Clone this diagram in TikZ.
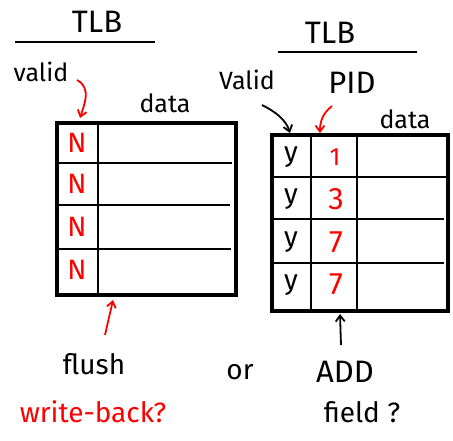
\documentclass[tikz,border=0pt]{standalone}
\usepackage{fontspec}
\setmainfont{Fira Sans}
\usetikzlibrary{arrows.meta}
\begin{document}
\begin{tikzpicture}[x=1pt,y=-1pt,
  hand/.style={font=\fontsize{28}{30}\selectfont},
  handbig/.style={font=\fontsize{31}{33}\selectfont},
  handsm/.style={font=\fontsize{25}{27}\selectfont},
  red/.style={text=red},
  outer/.style={line width=3.5pt},
  inner/.style={line width=1.8pt},
  rarrow/.style={draw=red,line width=1.8pt,-{Straight Barb[length=6pt,width=9pt]}},
  barrow/.style={draw=black,line width=1.8pt,-{Straight Barb[length=6pt,width=9pt]}}]
\useasboundingbox (0,0) rectangle (453,440);
% ---------- left TLB ----------
\node[handbig] (ltlb) at (97,22) {TLB};
\draw[line width=2pt] (15,42) -- (155,42);
\node[handsm] (lvalid) at (41,72) {valid};
\node[handsm] (ldata) at (165,103) {data};
\draw[outer] (57,123) rectangle (236,295);
\draw[inner] (98,123) -- (98,295);
\draw[inner] (57,163) -- (232,163);
\draw[inner] (57,205) -- (230,205);
\draw[inner] (57,249) -- (231,249);
\coordinate (lboxtop) at (80,118);
\draw[rarrow] (77,80) .. controls (92,88) and (84,105) .. (lboxtop);
\foreach \y/\n in {143/n1,184/n2,227/n3,270/n4}
  \node[hand,red] (\n) at (77,\y) {N};
% flush
\coordinate (lboxbot) at (113,300);
\node[hand] (flush) at (94,364) {flush};
\draw[rarrow] (105,335) -- (lboxbot);
\node[hand,red] (wb) at (93,412) {write-back?};
\node[hand] (or) at (240,372) {or};
% ---------- right TLB ----------
\node[handbig] (rtlb) at (330,33) {TLB};
\draw[line width=2pt] (278,52) -- (417,52);
\node[handsm] (rvalid) at (247,80) {Valid};
\node[handbig] (pid) at (352,83) {PID};
\node[handsm] (rdata) at (405,119) {data};
\draw[outer] (272,135) rectangle (448,311);
\draw[inner] (311,135) -- (311,311);
\draw[inner] (357,135) -- (357,311);
\draw[inner] (272,177) -- (446,177);
\draw[inner] (272,219) -- (444,219);
\draw[inner] (272,263) -- (444,263);
\coordinate (rvtop) at (290,133);
\coordinate (rptop) at (320,133);
\draw[barrow] (262,105) .. controls (276,112) and (286,120) .. (rvtop);
\draw[rarrow] (332,106) .. controls (322,114) and (320,122) .. (rptop);
\foreach \y/\n in {161/y1,203/y2,246/y3,289/y4}
  \node[hand,anchor=base] (\n) at (291,\y) {y};
\node[handsm,red] (p1) at (335,157) {1};
\node[handbig,red] (p2) at (336,199) {3};
\node[handbig,red] (p3) at (336,242) {7};
\node[handbig,red] (p4) at (336,284) {7};
\coordinate (rboxbot) at (340,314);
\node[handbig] (add) at (345,372) {ADD};
\node[hand] (field) at (362,412) {field ?};
\draw[barrow] (341,345) -- (rboxbot);
\end{tikzpicture}
\end{document}
